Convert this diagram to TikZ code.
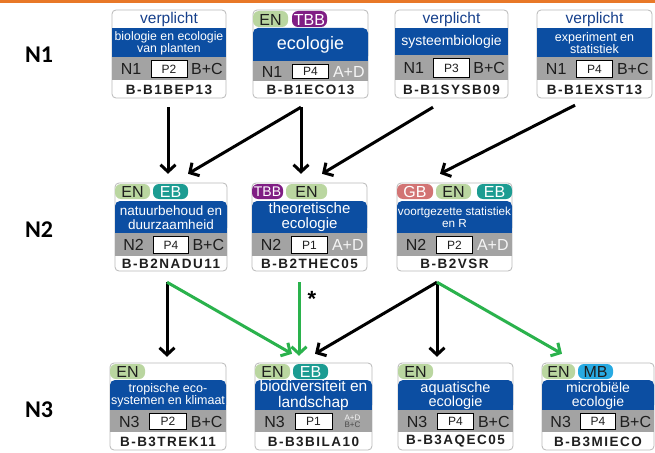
\documentclass[tikz,border=0pt]{standalone}
\usepackage{fontspec}
\setmainfont{Liberation Sans}
\newfontfamily\codefont{Liberation Sans}[LetterSpace=11]
\newfontfamily\lvlfont{Carlito}
\usetikzlibrary{arrows.meta,fit}

\definecolor{bandblue}{RGB}{12,78,162}
\definecolor{rowgray}{RGB}{163,163,163}
\definecolor{framecol}{RGB}{185,185,185}
\definecolor{hdrblue}{RGB}{22,64,140}
\definecolor{tagen}{RGB}{186,214,160}
\definecolor{tagtbb}{RGB}{128,30,132}
\definecolor{tageb}{RGB}{28,156,146}
\definecolor{taggb}{RGB}{210,116,116}
\definecolor{tagmb}{RGB}{40,170,226}
\definecolor{arrgreen}{RGB}{42,178,76}
\definecolor{topline}{RGB}{232,120,40}
\definecolor{darktxt}{RGB}{30,30,30}

\tikzset{
  cardframe/.style={draw=framecol, line width=0.8pt, rounded corners=4pt},
  blk/.style={line width=3pt, -{Straight Barb[length=7pt,width=15pt]}},
  grn/.style={blk, draw=arrgreen},
  txt/.style={inner sep=0pt, align=center},
}

% card frame: name x1 y1 x2 y2
\newcommand\cardbox[5]{%
  \fill[white, rounded corners=4pt] (#2,#3) rectangle (#4,#5);
  \draw[cardframe] (#2,#3) rectangle (#4,#5);
  \node[fit={(#2,#3) (#4,#5)}, inner sep=0pt] (#1) {};
}
% header "verplicht": x1 y1 x2 y2
\newcommand\hdrtext[4]{%
  \node[txt, text=hdrblue, font=\fontsize{15.5}{15.5}\selectfont] at ({(#1+#3)/2},{(#2+#4)/2+0.5}) {verplicht};
}
% square blue band: x1 y1 x2 y2 size text
\newcommand\bandsq[6]{%
  \fill[bandblue] (#1,#2) rectangle (#3,#4);
  \node[txt, text=white, font=\fontsize{#5}{#5}\selectfont] at ({(#1+#3)/2},{(#2+#4)/2+0.5}) {#6};
}
% blue band with rounded top
\newcommand\bandrd[6]{%
  \fill[bandblue, rounded corners=5pt] (#1,#2) rectangle (#3,#4);
  \fill[bandblue] (#1,{(#2+#4)/2}) rectangle (#3,#4);
  \node[txt, text=white, font=\fontsize{#5}{#5}\selectfont] at ({(#1+#3)/2},{(#2+#4)/2+0.5}) {#6};
}
% gray row: x1 y1 x2 y2 N P right
\newcommand\grayrow[7]{%
  \fill[rowgray] (#1,#2) rectangle (#3,#4);
  \draw[fill=white, line width=0.9pt] ({#1+(#3-#1)/3+1},{#2+3}) rectangle ({#1+2*(#3-#1)/3-1},{#4-2.5});
  \node[txt, text=darktxt, font=\fontsize{16}{16}\selectfont] at ({#1+(#3-#1)/6},{(#2+#4)/2+0.5}) {#5};
  \node[txt, text=darktxt, font=\fontsize{12}{12}\selectfont] at ({#1+(#3-#1)/2},{(#2+#4)/2+0.5}) {#6};
  \node[txt, text=darktxt, font=\fontsize{16}{16}\selectfont] at ({#1+5*(#3-#1)/6},{(#2+#4)/2+0.5}) {#7};
}
% code row: x1 y1 x2 y2 code
\newcommand\coderow[5]{%
  \node[txt, text=darktxt, font=\codefont\bfseries\fontsize{13.5}{13.5}\selectfont] at ({(#1+#3)/2},{(#2+#4)/2+0.5}) {#5};
}
% tag: x1 y1 x2 y2 fill textcolor text
\newcommand\cardtag[7]{%
  \fill[#5, rounded corners=6pt] (#1,#2) rectangle (#3,#4);
  \node[txt, text=#6, font=\fontsize{16}{16}\selectfont] at ({(#1+#3)/2},{(#2+#4)/2+0.5}) {#7};
}
\newcommand\ad{\textcolor{white!92!gray}{A+D}}

\begin{document}
\begin{tikzpicture}[x=1pt,y=-1pt]
\useasboundingbox (0,0) rectangle (655,452);
\fill[white] (0,0) rectangle (655,452);
\fill[topline] (0,0) rectangle (655,3);

% level labels
\node[font=\lvlfont\bfseries\fontsize{24}{24}\selectfont] (lv1) at (39,55) {N1};
\node[font=\lvlfont\bfseries\fontsize{24}{24}\selectfont] (lv2) at (39,230) {N2};
\node[font=\lvlfont\bfseries\fontsize{24}{24}\selectfont] (lv3) at (39,410) {N3};

% ---------- Row 1 ----------
\cardbox{bep}{112}{10}{226}{98}
\hdrtext{112}{10}{226}{28}
\bandsq{112}{28}{226}{57}{12.3}{biologie en ecologie\\van planten}
\grayrow{112}{57}{226}{80}{N1}{P2}{B+C}
\coderow{112}{80}{226}{98}{B-B1BEP13}

\cardbox{eco}{253}{10}{368}{98}
\cardtag{253}{11}{288}{27}{tagen}{darktxt}{EN}
\cardtag{292}{11}{327}{27}{tagtbb}{white}{TBB}
\bandrd{253}{28}{368}{61}{18}{ecologie}
\grayrow{253}{61}{368}{81}{N1}{P4}{\ad}
\coderow{253}{81}{368}{98}{B-B1ECO13}

\cardbox{sysb}{395}{10}{508}{98}
\hdrtext{395}{10}{508}{28}
\bandsq{395}{28}{508}{55}{14}{systeembiologie}
\grayrow{395}{55}{508}{80}{N1}{P3}{B+C}
\coderow{395}{80}{508}{98}{B-B1SYSB09}

\cardbox{exst}{537}{10}{652}{98}
\hdrtext{537}{10}{652}{28}
\bandsq{537}{28}{652}{57}{12.5}{experiment en\\statistiek}
\grayrow{537}{57}{652}{80}{N1}{P4}{B+C}
\coderow{537}{80}{652}{98}{B-B1EXST13}

% ---------- Row 2 ----------
\cardbox{nadu}{115}{183}{227}{271}
\cardtag{115}{184}{150}{199}{tagen}{darktxt}{EN}
\cardtag{153}{184}{188}{199}{tageb}{white}{EB}
\bandrd{115}{201}{227}{233}{13.5}{natuurbehoud en\\duurzaamheid}
\grayrow{115}{233}{227}{256}{N2}{P4}{B+C}
\coderow{115}{256}{227}{271}{B-B2NADU11}

\cardbox{thec}{252}{183}{367}{271}
\fill[tagtbb, rounded corners=6pt] (252,184) rectangle (283,199);
\node[txt, text=white, font=\fontsize{14}{14}\selectfont] (thectbb) at (267.5,192) {TBB};
\cardtag{286}{184}{327}{199}{tagen}{darktxt}{EN}
\bandrd{252}{201}{367}{233}{15}{theoretische\\ecologie}
\grayrow{252}{233}{367}{256}{N2}{P1}{\ad}
\coderow{252}{256}{367}{271}{B-B2THEC05}

\cardbox{vsr}{397}{183}{512}{271}
\cardtag{397}{184}{433}{199}{taggb}{white}{GB}
\cardtag{436}{184}{471}{199}{tagen}{darktxt}{EN}
\cardtag{477}{184}{512}{199}{tageb}{white}{EB}
\bandrd{397}{201}{512}{233}{11.7}{voortgezette statistiek\\en R}
\grayrow{397}{233}{512}{256}{N2}{P2}{\ad}
\coderow{397}{256}{512}{271}{B-B2VSR}

% ---------- Row 3 ----------
\cardbox{trek}{110}{363}{226}{450}
\cardtag{110}{364}{145}{379}{tagen}{darktxt}{EN}
\bandrd{110}{380}{226}{410}{12.5}{tropische eco-\\systemen en klimaat}
\grayrow{110}{410}{226}{432}{N3}{P2}{B+C}
\coderow{110}{432}{226}{450}{B-B3TREK11}

\cardbox{bila}{255}{363}{372}{450}
\cardtag{255}{364}{290}{379}{tagen}{darktxt}{EN}
\cardtag{293}{364}{328}{379}{tageb}{white}{EB}
\bandrd{255}{380}{372}{410}{15.5}{biodiversiteit en\\landschap}
\grayrow{255}{410}{372}{432}{N3}{P1}{}
\node[txt, font=\fontsize{8}{7.5}\selectfont] (bilaper) at ({255+5*117/6},421.5) {\textcolor{white!92!gray}{A+D}\\\textcolor{darktxt!80}{B+C}};
\coderow{255}{432}{372}{450}{B-B3BILA10}

\cardbox{aqec}{398}{363}{513}{450}
\cardtag{398}{364}{433}{379}{tagen}{darktxt}{EN}
\bandrd{398}{380}{513}{410}{14.5}{aquatische\\ecologie}
\grayrow{398}{410}{513}{432}{N3}{P4}{B+C}
\coderow{398}{432}{513}{450}{B-B3AQEC05}

\cardbox{mieco}{542}{363}{654}{450}
\cardtag{542}{364}{575}{379}{tagen}{darktxt}{EN}
\cardtag{578}{364}{613}{379}{tagmb}{darktxt}{MB}
\bandrd{542}{380}{654}{410}{14}{microbiële\\ecologie}
\grayrow{542}{410}{654}{432}{N3}{P4}{B+C}
\coderow{542}{432}{654}{450}{B-B3MIECO}

% ---------- Arrows N1 -> N2 ----------
\draw[blk] ([xshift=-1pt,yshift=-9pt]bep.south) -- ([xshift=-3pt,yshift=9pt]nadu.north);
\draw[blk] ([xshift=-9.5pt,yshift=-9pt]eco.south) -- ([xshift=17pt,yshift=9pt]nadu.north);
\draw[blk] ([xshift=-9.5pt,yshift=-9pt]eco.south) -- ([xshift=-8.5pt,yshift=9pt]thec.north);
\draw[blk] ([xshift=-18.5pt,yshift=-9pt]sysb.south) -- ([xshift=12.5pt,yshift=9pt]thec.north);
\draw[blk] ([xshift=-19.5pt,yshift=-7pt]exst.south) -- ([xshift=-14.5pt,yshift=9pt]vsr.north);

% ---------- Arrows N2 -> N3 ----------
\draw[blk] ([xshift=-4pt,yshift=-11pt]nadu.south) -- ([xshift=-1pt,yshift=6pt]trek.north);
\draw[grn] ([xshift=-4pt,yshift=-11pt]nadu.south) -- ([xshift=-21.5pt,yshift=9pt]bila.north);
\draw[grn] ([xshift=-10.5pt,yshift=-11pt]thec.south) -- ([xshift=-14.5pt,yshift=7pt]bila.north);
\node[inner sep=0pt, font=\bfseries\fontsize{22}{22}\selectfont] (star) at (312,299) {*};
\draw[blk] ([xshift=-17.5pt,yshift=-11pt]vsr.south) -- ([xshift=1.5pt,yshift=9pt]bila.north);
\draw[blk] ([xshift=-17.5pt,yshift=-11pt]vsr.south) -- ([xshift=-18.5pt,yshift=6pt]aqec.north);
\draw[grn] ([xshift=-17.5pt,yshift=-11pt]vsr.south) -- ([xshift=-36pt,yshift=9pt]mieco.north);
\end{tikzpicture}
\end{document}
